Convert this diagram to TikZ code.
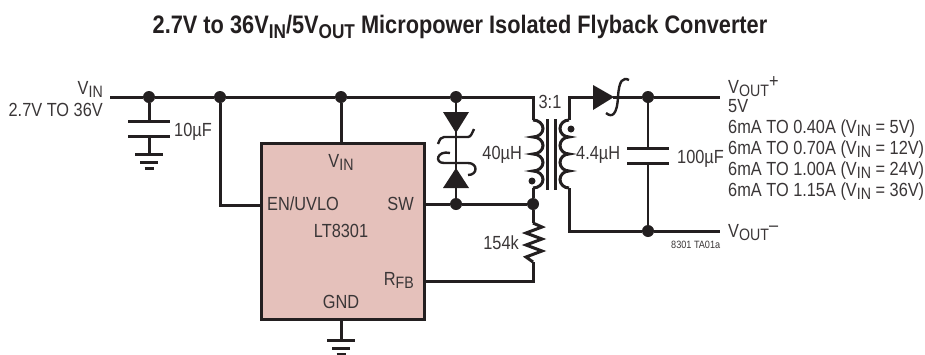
\documentclass[tikz,border=0pt]{standalone}
\usepackage{fontspec}
\setmainfont[FakeStretch=0.86]{Liberation Sans}
\usepackage{tikz}
\usetikzlibrary{positioning,shapes,arrows.meta,calc}
\definecolor{wirecol}{HTML}{231F20}
\definecolor{labelcol}{HTML}{3A3637}
\definecolor{chipcol}{HTML}{E5C1BB}
\newcommand{\vsub}[2]{#1\raisebox{-3.6pt}{\fontsize{16.5}{17}\selectfont #2}}
\newcommand{\tsub}[2]{#1\raisebox{-5pt}{\fontsize{20}{21}\selectfont #2}}
\tikzstyle{wire}=[%
      draw=wirecol, line width=3pt
]
\tikzstyle{thin wire}=[%
      draw=wirecol, line width=2.4pt
]
\tikzstyle{chip}=[%
      rectangle, draw=wirecol, line width=3pt, fill=chipcol,
      minimum width=163pt, minimum height=176pt, inner sep=0pt
]
\tikzstyle{junction}=[%
      circle, fill=wirecol, draw=none, minimum size=12pt, inner sep=0pt
]
\tikzstyle{phase}=[%
      circle, fill=wirecol, draw=none, minimum size=7pt, inner sep=0pt
]
\tikzstyle{lbl}=[%
      text=labelcol, inner sep=0pt, font=\fontsize{19}{20}\selectfont
]
\tikzset{
  gnd/.pic={
    \draw[wire] (-14,0) -- (14,0);
    \draw[wire] (-9,8) -- (9,8);
    \draw[wire] (-4.5,14) -- (4.5,14);
  }
}
\begin{document}
\begin{tikzpicture}[x=1pt,y=-1pt]
    \useasboundingbox (0,0) rectangle (925,354);

    \node[text=wirecol, inner sep=0pt, anchor=base, font=\bfseries\fontsize{25.3}{26}\selectfont] (title) at (460,33)
      {2.7V to 36\tsub{V}{IN}/5\tsub{V}{OUT} Micropower Isolated Flyback Converter};

    \node[chip, anchor=north west] (ic) at (260,142) {};

    % rail points
    \coordinate (in) at (110,97);
    \node[junction] (j1) at (149,97) {};
    \node[junction] (j2) at (220,97) {};
    \node[junction] (j3) at (341,97) {};
    \node[junction] (j4) at (456,97) {};
    \coordinate (ptop) at (533,97);
    \node[junction] (sw1) at (456,204) {};
    \node[junction] (sw2) at (533,204) {};
    \coordinate (pin1) at (533,120);
    \coordinate (pin2) at (533,188);
    \coordinate (stop) at (569,97);
    \coordinate (sin1) at (569,120);
    \coordinate (sin2) at (569,188);
    \coordinate (sbot) at (569,231);
    \node[junction] (j5) at (648,97) {};
    \node[junction] (j6) at (648,231) {};
    \coordinate (outp) at (720,97);
    \coordinate (outn) at (720,231);
    \coordinate (pinvin) at (341,142);
    \coordinate (pinen) at (260,205);
    \coordinate (pinsw) at (423,204);
    \coordinate (pinfb) at (423,281);
    \coordinate (pingnd) at (341,318);
    \coordinate (gnd1) at (341,340);
    \coordinate (gnd2) at (149,154);

    % bits of parts
    \coordinate (c1a) at (149,121);
    \coordinate (c1b) at (149,136);
    \coordinate (c2a) at (648,148);
    \coordinate (c2b) at (648,163);
    \coordinate (r1a) at (533,223);
    \coordinate (r1b) at (533,262);
    \coordinate (d1a) at (593,97);
    \coordinate (d1b) at (613,97);

    \path[wire] (in) edge (j1)
          (j1) edge (j2)
          (j2) edge (j3)
          (j3) edge (j4)
          (pin2) edge (sw2)
          (sw2) edge (r1a)
          (pinsw) edge (sw1)
          (sw1) edge (sw2)
          (j3) edge (pinvin)
          (j1) edge (c1a)
          (c1b) edge (gnd2)
          (pingnd) edge (gnd1)
          (d1b) edge (j5)
          (j5) edge (outp)
          (j6) edge (outn)
    ;
    \draw[wire] (j2) |- (pinen);
    \draw[wire] (r1b) |- (pinfb);
    \draw[wire] (j4) -- (ptop) -- (pin1);
    \draw[wire] (d1a) -- (stop) -- (sin1);
    \draw[wire] (sin2) |- (j6);
    \draw[thin wire] (j4) -- (sw1);
    \draw[thin wire] (j5) -- (c2a);
    \draw[thin wire] (c2b) -- (j6);

    % capacitors
    \draw[wire] ($(c1a)+(-21,0)$) -- ($(c1a)+(21,0)$);
    \draw[wire] ($(c1b)+(-21,0)$) -- ($(c1b)+(21,0)$);
    \draw[wire] ($(c2a)+(-21,0)$) -- ($(c2a)+(21,0)$);
    \draw[wire] ($(c2b)+(-21,0)$) -- ($(c2b)+(21,0)$);

    \pic at (gnd2) {gnd};
    \pic at (gnd1) {gnd};

    % transformer
    \draw[wire] (pin1)
      \foreach \k in {1,...,4} { arc[start angle=-90, end angle=90, x radius=10, y radius=8.5] };
    \draw[wire] (sin1)
      \foreach \k in {1,...,4} { arc[start angle=-90, end angle=-270, x radius=9, y radius=8.5] };
    \draw[wire] (547,119) -- (547,190);
    \draw[wire] (555,119) -- (555,190);
    \node[phase] (dotp) at (532,181) {};
    \node[phase] (dots) at (571,129) {};

    % resistor
    \draw[wire, line join=miter] (r1a) -- (542,227) -- (526,233) -- (542,239) -- (526,245) -- (542,251) -- (526,257) -- (r1b);

    % protection diodes
    \fill[wirecol] (443,112) -- (469,112) -- (456,133) -- cycle;
    \fill[wirecol] (443,188) -- (469,188) -- (456,168) -- cycle;
    \draw[thin wire] (438,144) .. controls (440,139) and (441,137) .. (444,137) -- (468,137) .. controls (471,137) and (472,133) .. (474,129);
    \draw[thin wire] (450,153) .. controls (437,150) and (434,163) .. (444,163) -- (468,163) .. controls (478,163) and (478,175) .. (468,175);

    % output diode
    \fill[wirecol] (593,85) -- (614,97) -- (593,110) -- cycle;
    \draw[thin wire] (606,113) .. controls (612,118) and (617,115) .. (618,97) .. controls (619,80) and (623,77) .. (629,80);

    % labels
    \node[lbl, anchor=base east] (vinl) at (103,94) {\vsub{V}{IN}};
    \node[lbl, anchor=base east] (vinr) at (103,116) {2.7V TO 36V};
    \node[lbl, anchor=base west] (c1l) at (174,136) {10µF};
    \node[lbl, anchor=base east] (l1) at (522,159) {40µH};
    \node[lbl, anchor=base west] (l2) at (576,159) {4.4µH};
    \node[lbl, anchor=base] (ratio) at (550,108) {3:1};
    \node[lbl, anchor=base west] (c2l) at (677,163) {100µF};
    \node[lbl, anchor=base east] (r1l) at (519,249) {154k};

    \node[lbl, anchor=base] (pvin) at (341,167) {\vsub{V}{IN}};
    \node[lbl, anchor=base west] (pen) at (267,210) {EN/UVLO};
    \node[lbl, anchor=base east] (psw) at (414,210) {SW};
    \node[lbl, anchor=base] (pname) at (341,237) {LT8301};
    \node[lbl, anchor=base east] (pfb) at (414,285) {\vsub{R}{FB}};
    \node[lbl, anchor=base] (pgnd) at (341,308) {GND};

    \node[lbl, anchor=base west] (vop) at (728,93) {\vsub{V}{OUT}\raisebox{6pt}{+}};
    \node[lbl, anchor=base west] (v5) at (728,112) {5V};
    \node[lbl, anchor=base west] (i1) at (728,133) {6mA TO 0.40A (\vsub{V}{IN} = 5V)};
    \node[lbl, anchor=base west] (i2) at (728,154) {6mA TO 0.70A (\vsub{V}{IN} = 12V)};
    \node[lbl, anchor=base west] (i3) at (728,175) {6mA TO 1.00A (\vsub{V}{IN} = 24V)};
    \node[lbl, anchor=base west] (i4) at (728,196) {6mA TO 1.15A (\vsub{V}{IN} = 36V)};
    \node[lbl, anchor=base west] (von) at (728,237) {\vsub{V}{OUT}\raisebox{6pt}{–}};
    \node[text=labelcol, inner sep=0pt, anchor=base west, font=\fontsize{10.6}{11}\selectfont] (tag) at (671,248) {8301 TA01a};
\end{tikzpicture}
\end{document}
